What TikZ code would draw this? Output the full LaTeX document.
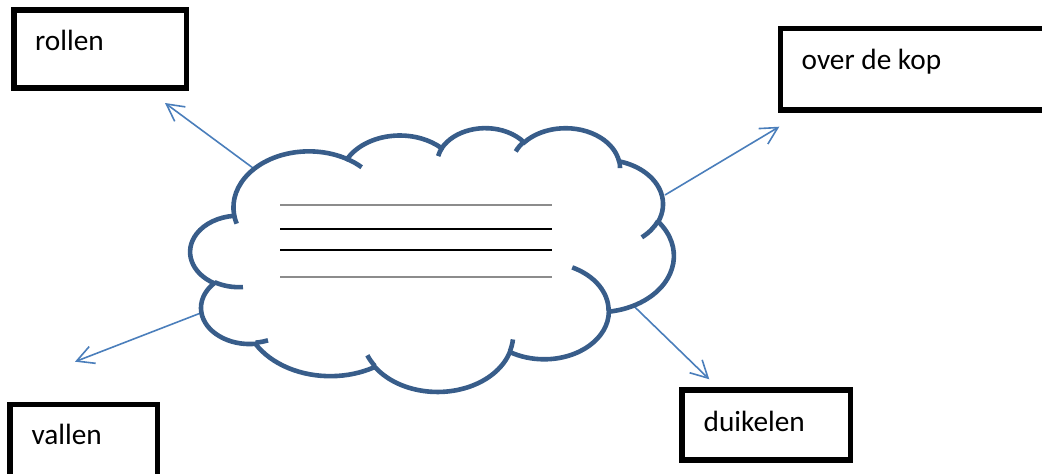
\documentclass[tikz,border=0pt]{standalone}
\usepackage{fontspec}
\setmainfont{Carlito}
\usetikzlibrary{arrows.meta}

\definecolor{cloudblue}{HTML}{385D8A}
\definecolor{arrowblue}{HTML}{4A7EBB}
\definecolor{rulegray}{HTML}{8C8C8C}

% one lobe of the cloud: x radius, y radius, start and sweep (visual angles)
\newcommand\cloudarc[4]{arc[x radius=#1, y radius=#2,
  start angle={atan2(#1*sin(#3),#2*cos(#3))},
  delta angle={mod(atan2(#1*sin(#3+#4),#2*cos(#3+#4))-atan2(#1*sin(#3),#2*cos(#3))+720,360)}]}

\begin{document}
\begin{tikzpicture}[x=1pt, y=-1pt,
    box/.style = {draw, line width=5.8pt, inner sep=0pt},
    boxtext/.style = {anchor=base west, inner sep=0pt, font=\fontsize{29.3}{35}\selectfont},
    arrow/.style = {arrowblue, line width=1.6pt, -{Straight Barb[length=17pt, width=18pt]}},
    cloudline/.style = {cloudblue, line width=4.6pt}]
    \clip (0,0) rectangle (1042,474);

    % arrows out of the cloud
    \coordinate (c1) at (253,168);
    \coordinate (c2) at (665,195);
    \coordinate (c3) at (206.7,310.7);
    \coordinate (c4) at (631.7,304);
    \coordinate (t1) at (165,103);
    \coordinate (t2) at (779.3,126.7);
    \coordinate (t3) at (75,361.7);
    \coordinate (t4) at (709.3,379.3);
    \draw[arrow] (c1) -- (t1);
    \draw[arrow] (c2) -- (t2);
    \draw[arrow] (c3) -- (t3);
    \draw[arrow] (c4) -- (t4);

    % cloud
    \begin{scope}[shift={(190.5,127.3)}, x=1.1185pt, y=-0.6104pt]
        \draw[cloudline, fill=white] (39.00,143.70)
            \cloudarc{67.53}{91.90}{-190.4875}{123.7805}
            \cloudarc{53.33}{72.67}{-144.1024}{89.9452}
            \cloudarc{43.65}{59.45}{-145.8079}{99.7230}
            \cloudarc{48.57}{65.95}{-130.9861}{117.2417}
            \cloudarc{53.33}{72.73}{-78.7089}{109.0269}
            \cloudarc{67.75}{92.20}{-46.2673}{130.2690}
            \cloudarc{57.85}{78.67}{0.6250}{114.0333}
            \cloudarc{67.52}{92.15}{22.4516}{115.1726}
            \cloudarc{77.20}{105.43}{66.2426}{75.7110}
            \cloudarc{43.60}{59.18}{-274.9421}{146.7356}
            \cloudarc{43.45}{59.45}{-246.8285}{152.5189} -- cycle;
        \draw[cloudline]
            (46.93,261.77) \cloudarc{43.45}{59.45}{86.7420}{26.4295}
            (69.28,348.99) \cloudarc{43.60}{59.18}{73.6105}{11.4475}
            (164.78,390.90) \cloudarc{67.52}{92.15}{137.6242}{14.0811}
            (288.27,347.51) \cloudarc{67.52}{92.15}{6.4533}{15.9984}
            (341.29,229.54) \cloudarc{57.85}{78.67}{-70.2924}{70.9174}
            (417.98,153.54) \cloudarc{53.33}{72.73}{30.3180}{27.7515}
            (383.24,54.26) \cloudarc{48.57}{65.95}{-13.7443}{14.8589}
            (290.78,39.52) \cloudarc{48.57}{65.95}{-149.1815}{18.1954}
            (221.41,47.20) \cloudarc{43.65}{59.45}{-163.4943}{17.6864}
            (140.00,51.92) \cloudarc{67.53}{91.90}{-66.7070}{12.3194}
            (41.27,157.89) \cloudarc{67.53}{91.90}{157.6544}{11.8582};
    \end{scope}

    % lines in the cloud
    \draw[rulegray, line width=1.6pt] (280,205) -- (551.7,205);
    \draw[line width=2.2pt] (280,229.3) -- (551.7,229.3);
    \draw[line width=2.2pt] (280,250.3) -- (551.7,250.3);
    \draw[rulegray, line width=1.6pt] (280,277) -- (551.7,277);

    % boxes
    \node[box, minimum width=172.5pt, minimum height=77.7pt] (rollen) at (100.25,49.15) {};
    \node[box, minimum width=279.5pt, minimum height=81.8pt] (kop) at (920.25,69.4) {};
    \node[box, minimum width=147.8pt, minimum height=85.5pt] (vallen) at (83.6,447.25) {};
    \node[box, minimum width=168.2pt, minimum height=70pt] (duikelen) at (766.4,425.3) {};

    \node[boxtext] (rollen-t) at (35,50) {rollen};
    \node[boxtext] (kop-t) at (801.5,69.3) {over de kop};
    \node[boxtext] (vallen-t) at (31.3,444) {vallen};
    \node[boxtext] (duikelen-t) at (703.5,431) {duikelen};
\end{tikzpicture}
\end{document}
